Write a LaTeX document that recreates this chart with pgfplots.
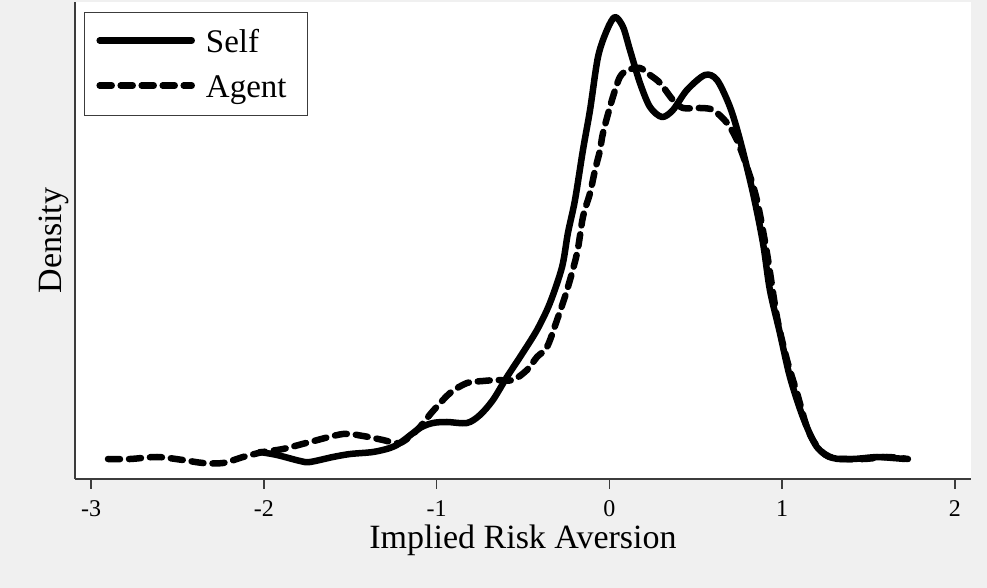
\documentclass[border=0pt]{standalone}
\usepackage{fontspec}
\setmainfont{Liberation Serif}
\usepackage{pgfplots}
\pgfplotsset{compat=1.18}
\definecolor{bg}{RGB}{240,240,240}
\definecolor{axc}{RGB}{60,60,60}
\begin{document}
\begin{tikzpicture}[x=1pt,y=1pt]
\fill[bg] (0,0) rectangle (987,588);
\useasboundingbox (0,0) rectangle (987,588);
\begin{axis}[
  at={(75pt,109pt)}, anchor=south west,
  scale only axis, width=896pt, height=477pt,
  xmin=-3.093, xmax=2.093, ymin=0, ymax=477,
  axis background/.style={fill=white},
  axis x line*=bottom, axis y line*=left,
  axis line style={axc, line width=1.5pt, -},
  xtick={-3,-2,-1,0,1,2},
  xticklabels={-3,-2,-1,0,1,2},
  ytick=\empty,
  tick align=outside, major tick length=10pt,
  every tick/.style={axc, line width=1.5pt},
  xticklabel style={font=\fontsize{24}{28}\selectfont, inner sep=0pt, yshift=-11pt},
  xlabel={Implied Risk Aversion},
  ylabel={Density},
  xlabel style={font=\fontsize{34}{40}\selectfont, anchor=base, at={(axis description cs:0.5,-0.1447)}},
  ylabel style={font=\fontsize{34}{40}\selectfont, rotate=0, anchor=base, at={(axis description cs:-0.0156,0.5)}},
  legend style={at={(axis description cs:0.010,0.979)}, anchor=north west,
    draw=axc, line width=1pt, fill=white, inner xsep=12pt, inner ysep=10pt,
    row sep=7pt, column sep=11pt,
    nodes={inner sep=0pt, text width=90pt, text height=30pt, text depth=8pt, align=left,
      font=\fontsize{33}{40}\selectfont}},
  legend cell align=left,
  legend image code/.code={\draw[#1] (0pt,1pt) -- (92pt,1pt);},
]
\addplot[black, line width=6.5pt, line cap=round, line join=round, smooth] coordinates {
(-2.022,27) (-1.924,24) (-1.79,18) (-1.733,17) (-1.60,22) (-1.50,25) (-1.368,27)
(-1.27,31) (-1.212,36) (-1.096,51) (-1.021,56) (-0.94,57) (-0.824,56) (-0.749,64)
(-0.674,79) (-0.593,102) (-0.517,122) (-0.419,149) (-0.344,176) (-0.274,212)
(-0.24,246) (-0.199,279) (-0.153,329) (-0.112,369) (-0.066,422) (-0.014,449)
(0.032,462) (0.079,452) (0.119,429) (0.177,396) (0.235,372) (0.304,362) (0.368,369)
(0.449,389) (0.553,404) (0.623,399) (0.698,372) (0.756,339) (0.831,286) (0.889,236)
(0.929,189) (0.987,146) (1.045,102) (1.12,62) (1.201,32) (1.294,21) (1.41,20)
(1.549,22) (1.641,21) (1.711,20)
};
\addlegendentry{Self}
\addplot[black, line width=6.5pt, line cap=round, line join=round, dash pattern=on 12pt off 9pt, smooth] coordinates {
(-2.902,20) (-2.774,20) (-2.618,22) (-2.468,19) (-2.352,16) (-2.236,16) (-2.12,22)
(-2.005,27) (-1.889,30) (-1.733,37) (-1.542,45) (-1.426,43) (-1.31,39) (-1.212,36)
(-1.113,49) (-1.021,68) (-0.922,86) (-0.824,96) (-0.731,98) (-0.65,99) (-0.558,99)
(-0.477,109) (-0.419,122) (-0.361,132) (-0.303,159) (-0.245,189) (-0.187,226)
(-0.153,262) (-0.112,286) (-0.083,309) (-0.054,329) (-0.037,346) (0.015,379)
(0.061,402) (0.108,409) (0.177,411) (0.235,404) (0.293,396) (0.368,379) (0.426,371)
(0.524,371) (0.6,369) (0.681,356) (0.738,339) (0.796,312) (0.854,279) (0.912,226)
(0.97,162) (1.028,119) (1.086,86) (1.149,49) (1.219,29) (1.294,21) (1.468,20)
(1.606,22) (1.728,20)
};
\addlegendentry{Agent}
\end{axis}
\end{tikzpicture}
\end{document}
